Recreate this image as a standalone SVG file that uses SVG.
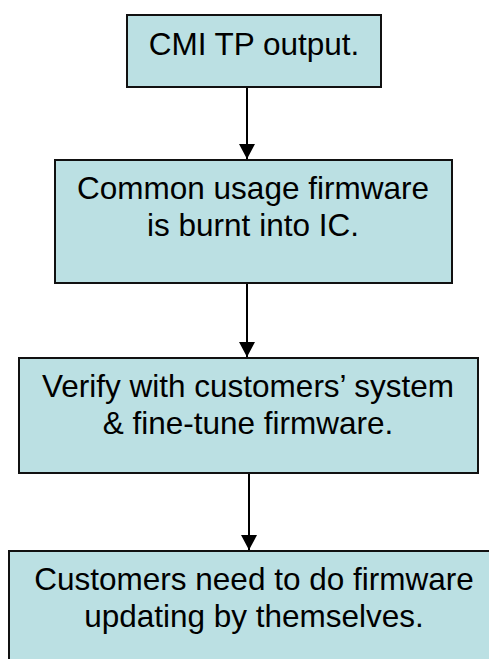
<svg xmlns="http://www.w3.org/2000/svg" width="489" height="659" viewBox="0 0 489 659">
<defs>
<style>
.box{fill:#BBE0E3;stroke:#111;stroke-width:2}
.lbl{font-family:"Liberation Sans",Arial,sans-serif;font-size:31.5px;fill:#000;text-anchor:middle}
.conn{stroke:#000;stroke-width:2;fill:none;marker-end:url(#ah)}
</style>
<marker id="ah" markerUnits="userSpaceOnUse" markerWidth="16" markerHeight="16" viewBox="0 0 16 16" refX="15" refY="8" orient="auto">
<path d="M0,0 L15,8 L0,16 Z" fill="#000"/>
</marker>
</defs>
<rect width="489" height="659" fill="#fff"/>
<g id="connectors">
<line class="conn" x1="247" y1="87" x2="247" y2="159"/>
<line class="conn" x1="247" y1="283" x2="247" y2="357"/>
<line class="conn" x1="249" y1="473" x2="249" y2="550"/>
</g>
<g id="n1">
<rect class="box" x="127" y="15" width="254" height="72"/>
<text class="lbl" x="254" y="55">CMI TP output.</text>
</g>
<g id="n2">
<rect class="box" x="55" y="160" width="397" height="123"/>
<text class="lbl" x="253" y="198.5">Common usage firmware</text>
<text class="lbl" x="253" y="236">is burnt into IC.</text>
</g>
<g id="n3">
<rect class="box" x="19" y="358" width="459" height="115"/>
<text class="lbl" x="248" y="397">Verify with customers’ system</text>
<text class="lbl" x="248" y="434">&amp; fine-tune firmware.</text>
</g>
<g id="n4">
<rect class="box" x="9" y="551" width="500" height="120"/>
<text class="lbl" x="254" y="590">Customers need to do firmware</text>
<text class="lbl" x="254" y="627">updating by themselves.</text>
</g>
</svg>
